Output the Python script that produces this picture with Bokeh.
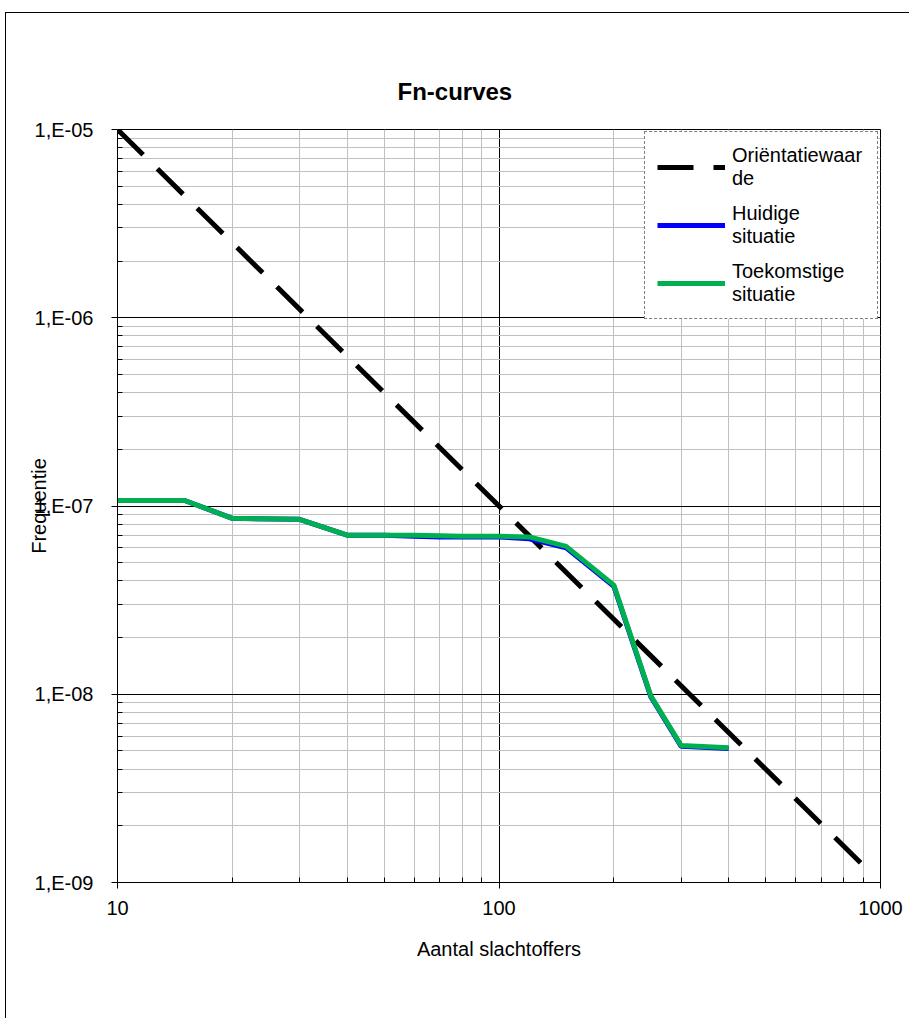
from bokeh.plotting import figure
from bokeh.models import FixedTicker, CustomJSTickFormatter, Legend, LegendItem
from bokeh.embed import file_html
from bokeh.resources import INLINE

# ---- data ----
ORIENT_N = [10, 900]
ORIENT_F = [1e-5, 1.235e-9]

N_VALUES = [10, 15, 20, 30, 40, 50, 60, 70, 80, 90, 100, 120, 150, 200, 250, 300, 400]
HUIDIG_F = [1.07e-7, 1.07e-7, 8.6e-8, 8.5e-8, 7.0e-8, 7.0e-8, 6.9e-8, 6.85e-8, 6.85e-8,
            6.85e-8, 6.85e-8, 6.7e-8, 6.0e-8, 3.75e-8, 9.7e-9, 5.3e-9, 5.15e-9]
TOEKOMST_F = [1.07e-7, 1.07e-7, 8.6e-8, 8.5e-8, 7.0e-8, 7.0e-8, 7.0e-8, 6.95e-8, 6.9e-8,
              6.9e-8, 6.9e-8, 6.85e-8, 6.1e-8, 3.8e-8, 9.8e-9, 5.35e-9, 5.2e-9]

X_MAJOR = [10, 100, 1000]
X_MINOR = [20, 30, 40, 50, 60, 70, 80, 90, 200, 300, 400, 500, 600, 700, 800, 900]
Y_MAJOR = [1e-9, 1e-8, 1e-7, 1e-6, 1e-5]
Y_MINOR = [m * 10.0 ** e for e in range(-9, -5) for m in range(2, 10)]

FONT = "Liberation Sans"

p = figure(width=904, height=1006, x_axis_type="log", y_axis_type="log",
           x_range=(10, 1000), y_range=(1e-9, 1e-5),
           output_backend="svg", toolbar_location=None,
           margin=(12, 0, 0, 5),
           styles={"border-left": "1px solid black", "border-top": "1px solid black"},
           min_border_left=111, min_border_right=30,
           min_border_top=116, min_border_bottom=137)

p.outline_line_color = "black"
p.outline_line_width = 1

# grids
for g in (p.xgrid, p.ygrid):
    g.grid_line_color = "black"
    g.grid_line_width = 1
    g.minor_grid_line_color = "#c0c0c0"
    g.minor_grid_line_width = 1

p.xaxis.ticker = FixedTicker(ticks=X_MAJOR, minor_ticks=X_MINOR)
p.yaxis.ticker = FixedTicker(ticks=Y_MAJOR, minor_ticks=Y_MINOR)
p.xgrid.ticker = p.xaxis.ticker
p.ygrid.ticker = p.yaxis.ticker

p.xaxis.formatter = CustomJSTickFormatter(code="return Math.round(tick).toString();")
p.yaxis.formatter = CustomJSTickFormatter(code="""
const e = Math.round(Math.log10(tick));
const a = Math.abs(e);
return '1,E' + (e < 0 ? '-' : '+') + (a < 10 ? '0' : '') + a;
""")

for ax in (p.xaxis, p.yaxis):
    ax.axis_line_color = "black"
    ax.major_tick_line_color = "black"
    ax.minor_tick_line_color = "black"
    ax.major_tick_out = 6
    ax.major_tick_in = 0
    ax.minor_tick_out = 0
    ax.minor_tick_in = 5
    ax.major_label_text_font = FONT
    ax.major_label_text_font_size = "20px"
    ax.major_label_text_color = "black"
    ax.axis_label_text_font = FONT
    ax.axis_label_text_font_size = "20px"
    ax.axis_label_text_font_style = "normal"
    ax.axis_label_text_color = "black"

p.xaxis.axis_label = "Aantal slachtoffers"
p.xaxis.major_label_standoff = 12
p.xaxis.axis_label_standoff = 20
p.yaxis.axis_label = "Frequentie"
p.yaxis.major_label_standoff = 18
p.yaxis.axis_label_standoff = -18

# title
p.title.text = "Fn-curves"
p.title.text_font = FONT
p.title.text_font_size = "24px"
p.title.text_font_style = "bold"
p.title.text_color = "black"
p.title.align = "left"
p.title.offset = 280
p.title.standoff = 50

# lines
r_orient = p.line(ORIENT_N, ORIENT_F, line_color="black", line_width=5,
                  line_dash="36 20")
r_huidig = p.line(N_VALUES, HUIDIG_F, line_color="#0000ff", line_width=5)
r_toek = p.line(N_VALUES, TOEKOMST_F, line_color="#00b050", line_width=5)

legend = Legend(items=[
    LegendItem(label="Oriëntatiewaar\nde", renderers=[r_orient]),
    LegendItem(label="Huidige\nsituatie", renderers=[r_huidig]),
    LegendItem(label="Toekomstige\nsituatie", renderers=[r_toek]),
], location=(527, 563))
legend.label_text_font = FONT
legend.label_text_font_size = "20px"
legend.label_text_color = "black"
legend.glyph_width = 68
legend.label_standoff = 7
legend.padding = 12
legend.spacing = 12
legend.margin = 0
legend.label_width = 133
legend.border_line_color = "black"
legend.border_line_dash = "1 1"
legend.border_line_width = 1
legend.background_fill_alpha = 1.0
p.add_layout(legend)

open("out.html", "w").write(file_html(p, INLINE))
